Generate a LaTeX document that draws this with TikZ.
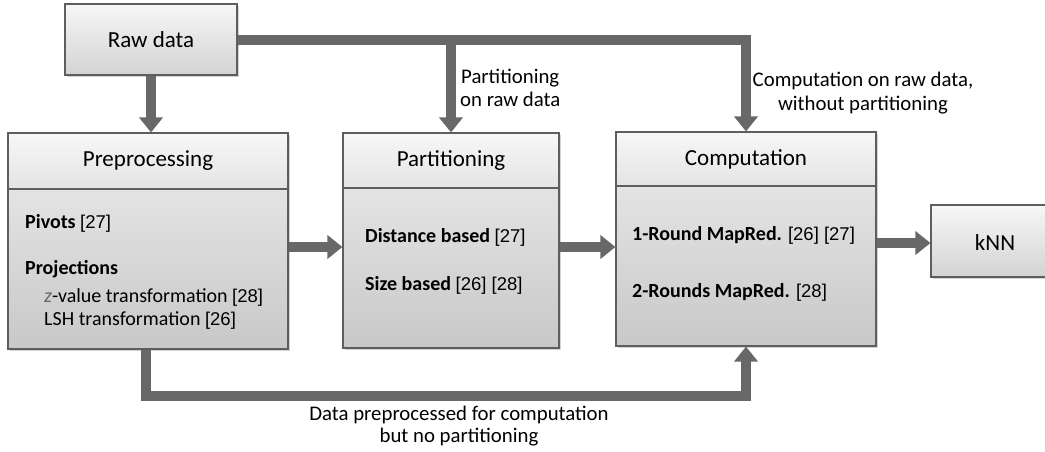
\documentclass[tikz,border=0pt]{standalone}
\usepackage{fontspec}
\setmainfont{Carlito}
\newfontfamily\citefont{Liberation Sans}
\usetikzlibrary{arrows.meta,shadows}
\definecolor{arrowgray}{HTML}{686868}
\definecolor{boxborder}{HTML}{5E5E5E}
\definecolor{headtop}{HTML}{F7F7F7}
\definecolor{headbot}{HTML}{E4E4E4}
\definecolor{bodytop}{HTML}{EDEDED}
\definecolor{bodybot}{HTML}{C8C8C8}
\definecolor{zgray}{HTML}{666666}
\newcommand{\ct}[1]{{\normalfont\citefont\fontsize{18.5}{22}\selectfont #1}}
\begin{document}
\begin{tikzpicture}[x=1pt,y=-1pt,
  bigbox/.style={draw=boxborder, line width=1.1pt, top color=bodytop, bottom color=bodybot,
     inner sep=0pt, drop shadow={shadow xshift=1.5pt, shadow yshift=-2pt, opacity=0.35}},
  headbox/.style={draw=boxborder, line width=1.1pt, top color=headtop, bottom color=headbot,
     inner sep=0pt, font=\fontsize{23}{26}\selectfont},
  smallbox/.style={draw=boxborder, line width=1.1pt, top color=headtop, bottom color=bodybot!80!white,
     inner sep=0pt, font=\fontsize{23}{26}\selectfont,
     drop shadow={shadow xshift=1.5pt, shadow yshift=-2pt, opacity=0.35}},
  item/.style={anchor=base west, inner sep=0pt, font=\bfseries\fontsize{20}{24}\selectfont},
  sub/.style={anchor=base west, inner sep=0pt, font=\fontsize{20}{24}\selectfont},
  lbl/.style={inner sep=0pt, font=\fontsize{20.8}{24}\selectfont},
  arr/.style={draw=arrowgray, line width=10pt, line join=miter, -{Triangle[width=23pt,length=15pt]}}
]
\useasboundingbox (0,0) rectangle (1045,451);

% Boxes
\node[smallbox, minimum width=172, minimum height=71] (raw) at (151,39.5) {Raw data};

\node[bigbox, minimum width=280, minimum height=216] (pre) at (148,241) {};
\node[headbox, minimum width=280, minimum height=56, anchor=north] (prehead) at (pre.north) {Preprocessing};

\node[bigbox, minimum width=216, minimum height=215] (part) at (451,240.5) {};
\node[headbox, minimum width=216, minimum height=55, anchor=north] (parthead) at (part.north) {Partitioning};

\node[bigbox, minimum width=260, minimum height=214] (comp) at (746,239) {};
\node[headbox, minimum width=260, minimum height=54, anchor=north] (comphead) at (comp.north) {Computation};

\begin{scope}
\clip (0,0) rectangle (1045,451);
\node[smallbox, minimum width=160, minimum height=72] (knn) at (1011,241) {};
\end{scope}
\node[inner sep=0pt, font=\fontsize{23}{26}\selectfont, anchor=base] (knnt) at (995,250) {kNN};

% Box contents
\node[item] (pv) at (25,228) {Pivots \ct{[27]}};
\node[item] (pj) at (25,274) {Projections};
\node[sub] (zv) at (44,302) {\textcolor{zgray}{\textit{z}}-value transformation \ct{[28]}};
\node[sub] (lsh) at (44,325) {LSH transformation \ct{[26]}};

\node[item] (db) at (365,242) {Distance based \ct{[27]}};
\node[item] (sb) at (365,290) {Size based \ct{[26] [28]}};

\node[item] (r1) at (632,240) {1-Round MapRed. \ct{[26] [27]}};
\node[item] (r2) at (632,297) {2-Rounds MapRed. \ct{[28]}};

% Connectors
\draw[arr] (raw.south) -- (raw.south |- pre.north);
\draw[arr] (raw.east) -| (comp.north);
\draw[arr] (part.north |- raw.east) ++(0,-5) -- (part.north);
\draw[arr] (pre.east |- 0,247) -- (part.west |- 0,247);
\draw[arr] (part.east |- 0,247) -- (comp.west |- 0,247);
\draw[arr] (comp.east |- 0,243) -- (knn.west |- 0,243);
\coordinate (bl) at (146,396);
\draw[arr] (pre.south -| bl) -- (bl) -| (comp.south);

% Labels
\node[lbl, anchor=base west] (l1a) at (461,83) {Partitioning};
\node[lbl, anchor=base west] (l1b) at (460,106) {on raw data};
\node[lbl, anchor=base] (l2a) at (863,86) {Computation on raw data,};
\node[lbl, anchor=base] (l2b) at (863,110) {without partitioning};
\node[lbl, anchor=base] (l3a) at (459,420) {Data preprocessed for computation};
\node[lbl, anchor=base] (l3b) at (459,442) {but no partitioning};
\end{tikzpicture}
\end{document}
